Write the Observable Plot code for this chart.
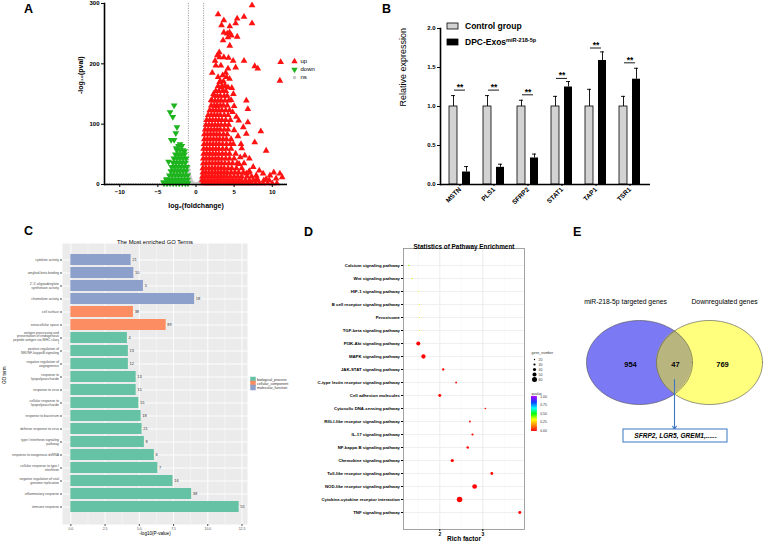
<!DOCTYPE html>
<html>
<head>
<meta charset="utf-8">
<script src="https://cdn.jsdelivr.net/npm/d3@7"></script>
<script src="https://cdn.jsdelivr.net/npm/@observablehq/plot@0.6"></script>
<style>
  body { margin: 0; background: #fff; }
  #fig { position: relative; width: 765px; height: 542px; overflow: hidden; background: #fff;
         font-family: "Liberation Sans", Arial, Helvetica, sans-serif; }
  .tag { position: absolute; font-weight: bold; font-size: 12.5px; line-height: 1; color: #000; }
</style>
</head>
<body>
<div id="fig"></div>
<script>
// ================= Panel A: volcano plot =================
const foldCutoffs = [-1, 1];
const pCutoff = 1.3;
// isolated up-regulated genes [log2FC, -log10 p]
const upScatter = [
  [2.9,282],[3.65,272],[5.4,275],[5.2,267],[6.3,278],[7.35,297],[7.35,267],[3.35,264],[4.43,262],
  [3.65,252],[4.1,250],[4.4,252],[4.65,247],[4.2,244],[5.4,245],[3.55,239],[4.43,230],[3.05,219],
  [2.8,214],[3.1,211],[3.65,211],[4.26,210],[4.87,205],[6.3,205],[2.5,205],[2.6,197],[3.26,197],
  [4.2,192],[5.2,194],[7.7,196],[8.1,192],[11.1,203],[11.0,172],[2.13,185],[3.5,181],[4.0,178],
  [4.4,175],[3.1,170],[3.8,164],[3.35,161],[4.2,161],[4.9,150],[6.6,139],[6.8,125],[5.6,106],
  [6.8,103],[8.5,88],[6.6,84],[7.7,70],[9.2,56],[5.9,67],[4.9,67],[6.4,48],[7.0,43],[5.65,34],
  [7.5,29],[8.3,23],[8.8,18],[10.2,20],[11.0,18],[9.7,15],[7.9,15],[6.6,18],[9.2,9],
  [2.3,150],[2.0,140],[4.6,140],[5.0,130],[4.8,120],[5.3,112],[3.9,185],[2.9,178],[5.0,90],
  [5.5,80],[6.0,60],[5.8,45],[6.3,35],[7.0,22],[8.0,10],[10.5,10],[11.3,12],[6.2,95],[4.7,160],[2.7,130]
];
// dense body of up-regulated genes: [-log10 p, [log2FC ...]]
const upCoreRows = [
  [2,  [0.9,1.3,1.7,2.1,2.5,2.9,3.3,3.7,4.1,4.5,4.9,5.3,5.7,6.1,6.5,6.9,7.3,7.8,8.3,8.8,9.4,10.0,10.6]],
  [7,  [0.8,1.2,1.6,2.0,2.4,2.8,3.2,3.6,4.0,4.4,4.8,5.2,5.6,6.0,6.5,7.0,7.5,8.1,8.9,9.6]],
  [13, [0.85,1.25,1.65,2.05,2.45,2.85,3.25,3.65,4.05,4.5,5.0,5.5,6.0,6.7,7.3]],
  [20, [0.9,1.3,1.7,2.1,2.5,2.9,3.3,3.7,4.1,4.6,5.1,5.6,6.2,6.9]],
  [27, [0.9,1.3,1.7,2.1,2.5,2.9,3.3,3.7,4.2,4.7,5.3,6.0]],
  [35, [0.95,1.35,1.75,2.15,2.55,2.95,3.35,3.8,4.3,4.8,5.4]],
  [43, [0.95,1.35,1.75,2.15,2.55,2.95,3.4,3.9,4.4,5.0]],
  [51, [1.0,1.4,1.8,2.2,2.6,3.0,3.45,3.9,4.4,5.2]],
  [59, [1.0,1.4,1.8,2.2,2.6,3.0,3.5,4.0,4.6]],
  [67, [1.05,1.45,1.85,2.25,2.65,3.05,3.5,4.0,4.5]],
  [75, [1.1,1.5,1.9,2.3,2.7,3.1,3.55,4.0,4.6]],
  [83, [1.1,1.5,1.9,2.3,2.7,3.1,3.6,4.1]],
  [91, [1.2,1.6,2.0,2.4,2.8,3.2,3.7,4.2]],
  [99, [1.3,1.7,2.1,2.5,2.9,3.3,3.8,4.3]],
  [107,[1.4,1.8,2.2,2.6,3.0,3.4,3.9,4.5]],
  [115,[1.6,2.0,2.4,2.8,3.2,3.7,4.2]],
  [123,[1.8,2.2,2.6,3.0,3.4,3.9,4.4]],
  [131,[2.0,2.4,2.8,3.2,3.6,4.1]],
  [139,[2.1,2.5,2.9,3.3,3.8,4.3]],
  [147,[2.4,2.8,3.2,3.7,4.1]],
  [155,[2.6,3.0,3.5,3.9]],
  [163,[2.9,3.4,3.8]],
  [171,[3.2,3.6]]
];
const downScatter = [
  [-2.87,131],[-3.4,120],[-3.04,112],[-2.5,95],[-2.65,85],[-3.26,74],[-2.87,74],[-3.6,38],
  [-4.26,4],[-3.8,9],[-2.1,67],[-1.87,64],[-2.6,60],[-1.5,55]
];
const downCoreRows = [
  [2,  [-4.2,-3.8,-3.4,-3.0,-2.6,-2.2,-1.8,-1.4,-1.05]],
  [8,  [-3.9,-3.5,-3.1,-2.7,-2.3,-1.9,-1.5,-1.1]],
  [15, [-3.5,-3.1,-2.7,-2.3,-1.9,-1.5,-1.1]],
  [22, [-3.3,-2.9,-2.5,-2.1,-1.7,-1.3]],
  [29, [-3.2,-2.8,-2.4,-2.0,-1.6,-1.2]],
  [36, [-3.0,-2.6,-2.2,-1.8,-1.4]],
  [43, [-2.9,-2.5,-2.1,-1.7,-1.3]],
  [50, [-2.7,-2.3,-1.9,-1.5]],
  [57, [-2.5,-2.1,-1.7]],
  [64, [-2.3,-1.9]]
];
const nsPoints = [
  [-0.95,30],[-0.9,24],[-0.85,18],[-0.8,13],[-0.7,9],[-0.6,6],[-0.5,4],[-0.35,2.5],[-0.2,1.5],[0,1],
  [0.2,1.5],[0.35,2.5],[0.5,4],[0.6,6],[0.7,9],[0.8,13],[0.85,18],[0.9,24],[0.95,30],[-0.75,3],
  [0.75,3],[-0.4,0.8],[0.4,0.8],[-0.9,6],[0.9,6],[-0.95,12],[0.95,12]
];
const volcanoLegend = ["up", "down", "ns"];
const volcanoTicksX = [-10, -5, 0, 5, 10];
const volcanoTicksY = [0, 100, 200, 300];

// ================= Panel B: qPCR bars =================
const geneLabels  = ["MSTN", "PLS1", "SFRP2", "STAT1", "TAP1", "TSR1"];
const controlMean = [1.00, 1.00, 1.00, 1.00, 1.00, 1.00];
const controlSD   = [0.14, 0.14, 0.08, 0.13, 0.22, 0.13];
const treatedMean = [0.16, 0.22, 0.34, 1.25, 1.59, 1.35];
const treatedSD   = [0.07, 0.04, 0.05, 0.07, 0.11, 0.14];
const sigLevel    = [1.21, 1.21, 1.15, 1.36, 1.75, 1.56];
const sigMarks    = ["**", "**", "**", "**", "**", "**"];
const barGroups   = ["Control group", "DPC-Exos"];
const barTicksY   = [0, 0.5, 1, 1.5, 2];

// ================= Panel C: GO enrichment =================
const goTerms = [
  "cytokine activity",
  "amyloid-beta binding",
  "2'-5'-oligoadenylate\nsynthetase activity",
  "chemokine activity",
  "cell surface",
  "extracellular space",
  "antigen processing and\npresentation of endogenous\npeptide antigen via MHC class\nI",
  "positive regulation of\nNIK/NF-kappaB signaling",
  "negative regulation of\nangiogenesis",
  "response to\nlipopolysaccharide",
  "response to virus",
  "cellular response to\nlipopolysaccharide",
  "response to bacterium",
  "defense response to virus",
  "type I interferon signaling\npathway",
  "response to exogenous dsRNA",
  "cellular response to type I\ninterferon",
  "negative regulation of viral\ngenome replication",
  "inflammatory response",
  "immune response"
];
const goValues = [4.40, 4.60, 5.30, 9.04, 4.57, 6.96, 4.13, 4.20, 4.20, 4.77,
                  4.77, 4.96, 5.13, 5.20, 5.37, 6.10, 6.35, 7.46, 8.82, 12.29];
const goCounts = [21, 10, 5, 18, 38, 89, 4, 13, 12, 13, 15, 15, 18, 21, 8, 6, 7, 16, 38, 55];
const goTypes = [
  "molecular_function", "molecular_function", "molecular_function", "molecular_function",
  "cellular_component", "cellular_component",
  "biological_process", "biological_process", "biological_process", "biological_process",
  "biological_process", "biological_process", "biological_process", "biological_process",
  "biological_process", "biological_process", "biological_process", "biological_process",
  "biological_process", "biological_process"
];
const goCategories = ["biological_process", "cellular_component", "molecular_function"];
const goTicks = [0, 2.5, 5, 7.5, 10, 12.5];

// ================= Panel D: KEGG pathway enrichment =================
const pathways = [
  "Calcium signaling pathway", "Wnt signaling pathway", "HIF-1 signaling pathway",
  "B cell receptor signaling pathway", "Peroxisome", "TGF-beta signaling pathway",
  "PI3K-Akt signaling pathway", "MAPK signaling pathway", "JAK-STAT signaling pathway",
  "C-type lectin receptor signaling pathway", "Cell adhesion molecules",
  "Cytosolic DNA-sensing pathway", "RIG-I-like receptor signaling pathway",
  "IL-17 signaling pathway", "NF-kappa B signaling pathway", "Chemokine signaling pathway",
  "Toll-like receptor signaling pathway", "NOD-like receptor signaling pathway",
  "Cytokine-cytokine receptor interaction", "TNF signaling pathway"
];
const richFactor = [1.28, 1.36, 1.50, 1.53, 1.53, 1.53, 1.50, 1.62, 2.08, 2.38,
                    2.00, 3.06, 2.70, 2.76, 2.65, 2.29, 3.21, 2.81, 2.46, 3.86];
const geneCount  = [21, 20, 18, 18, 18, 18, 49, 52, 31, 25, 38, 24, 25, 29, 33, 41, 36, 57, 65, 38];
const qValue     = [0.40, 0.38, 0.32, 0.32, 0.32, 0.32, 0.001, 0.001, 0.004, 0.01,
                    0.002, 0.012, 0.008, 0.006, 0.004, 0.002, 0.003, 0.001, 0.001, 0.002];
const geneNumberBreaks = [20, 30, 40, 50, 60];
const qValueBreaks = [0, 0.25, 0.5, 0.75, 1];
const richTicks = [2, 3];

// ================= Panel E: Venn diagram =================
const vennSets = ["miR-218-5p targeted genes", "Downregulated genes"];
const vennCounts = [954, 47, 769];
const sharedGenes = "SFRP2, LGR5, GREM1,......";

// ---------------- styling ----------------
const FONT = "'Liberation Sans', Arial, Helvetica, sans-serif";
const upColor = "#ff1212", downColor = "#1eb41e", nsColor = "#c8c8c8";
const goPalette = ["#66c2a5", "#fc8d62", "#8da0cb"];
const rainbowStops = ["#ff0000", "#ff8c00", "#ffff00", "#00ff00", "#00ffff", "#0040ff", "#a000ff"];
const qColor = {type: "linear", domain: [0, 1], interpolate: d3.piecewise(d3.interpolateRgb, rainbowStops)};
const rSize = {type: "linear", domain: [20, 60], range: [0.65, 2.5]};

const fig = document.getElementById("fig");
function place(el, left, top) {
  Object.assign(el.style, {position: "absolute", left: left + "px", top: top + "px",
                           background: "transparent", overflow: "visible", maxWidth: "none"});
  fig.appendChild(el);
  return el;
}
function tag(letter, left, top) {
  const d = document.createElement("div");
  d.className = "tag"; d.textContent = letter;
  d.style.left = left + "px"; d.style.top = top + "px";
  fig.appendChild(d);
}
const expand = rows => rows.flatMap(([y, xs]) => xs.map(x => [x, y]));

// ---------------- A ----------------
const upAll = upScatter.concat(expand(upCoreRows));
const downAll = downScatter.concat(expand(downCoreRows));
place(Plot.plot({
  width: 300, height: 215, marginLeft: 104, marginRight: 13, marginTop: 3, marginBottom: 31,
  x: {domain: [-12, 12]},
  y: {domain: [0, 300]},
  style: {fontFamily: FONT, fontSize: "6px", fontWeight: "bold", color: "#000"},
  marks: [
    Plot.ruleX(foldCutoffs, {stroke: "#777", strokeWidth: 0.7, strokeDasharray: "1.2,1.2"}),
    Plot.ruleY([pCutoff], {stroke: "#777", strokeWidth: 0.7, strokeDasharray: "1.2,1.2"}),
    Plot.dot(nsPoints, {x: d => d[0], y: d => d[1], r: 1.8, fill: nsColor}),
    Plot.dot(downAll, {x: d => d[0], y: d => d[1], symbol: "triangle", rotate: 180, r: 2.5, fill: downColor}),
    Plot.dot(upAll, {x: d => d[0], y: d => d[1], symbol: "triangle", r: 2.5, fill: upColor}),
    Plot.ruleY([0], {strokeWidth: 1.6}),
    Plot.frame({anchor: "left", strokeWidth: 1.6}),
    Plot.axisX({ticks: volcanoTicksX, tickSize: 3, tickPadding: 2, label: null}),
    Plot.axisY({ticks: volcanoTicksY, tickSize: 3, tickPadding: 2, label: null}),
    Plot.text(["log₂(foldchange)"], {text: d => d, frameAnchor: "bottom", dy: 23, fontSize: 7}),
    Plot.text(["-log₁₀(pval)"], {text: d => d, frameAnchor: "left", dx: -24, rotate: -90, fontSize: 7})
  ]
}), 0, 0);

place(Plot.plot({
  width: 40, height: 42, marginLeft: 0, marginRight: 0, marginTop: 0, marginBottom: 0,
  y: {type: "point", domain: volcanoLegend, range: [8, 33], axis: null},
  style: {fontFamily: FONT, fontSize: "6px"},
  marks: [
    Plot.dot(["up"], {y: d => d, frameAnchor: "left", dx: 6, symbol: "triangle", r: 2.4, fill: upColor}),
    Plot.dot(["down"], {y: d => d, frameAnchor: "left", dx: 6, symbol: "triangle", rotate: 180, r: 2.4, fill: downColor}),
    Plot.dot(["ns"], {y: d => d, frameAnchor: "left", dx: 6, r: 1.8, fill: nsColor}),
    Plot.text(volcanoLegend, {y: d => d, text: d => d, frameAnchor: "left", dx: 12, textAnchor: "start"})
  ]
}), 288, 48);

// ---------------- B ----------------
const bRows = geneLabels.map((gene, i) => ({
  gene, control: controlMean[i], controlTop: controlMean[i] + controlSD[i],
  treated: treatedMean[i], treatedTop: treatedMean[i] + treatedSD[i],
  sig: sigLevel[i], star: sigMarks[i]
}));
place(Plot.plot({
  width: 290, height: 215, marginLeft: 70, marginRight: 10, marginTop: 28, marginBottom: 31,
  x: {domain: geneLabels, paddingInner: 0.371, paddingOuter: 0.186},
  y: {domain: [0, 2]},
  style: {fontFamily: FONT, fontSize: "6px", fontWeight: "bold", color: "#000"},
  marks: [
    Plot.barY(bRows, {x: "gene", y: "control", fill: "#d3d3d3", stroke: "#000", strokeWidth: 0.8, insetRight: 13}),
    Plot.barY(bRows, {x: "gene", y: "treated", fill: "#000", insetLeft: 13}),
    Plot.ruleX(bRows, {x: "gene", y1: "control", y2: "controlTop", dx: -6.5, strokeWidth: 0.9}),
    Plot.tickY(bRows, {x: "gene", y: "controlTop", dx: -6.5, insetLeft: 8.5, insetRight: 8.5, strokeWidth: 0.9}),
    Plot.ruleX(bRows, {x: "gene", y1: "treated", y2: "treatedTop", dx: 6.5, strokeWidth: 0.9}),
    Plot.tickY(bRows, {x: "gene", y: "treatedTop", dx: 6.5, insetLeft: 8.5, insetRight: 8.5, strokeWidth: 0.9}),
    Plot.tickY(bRows, {x: "gene", y: "sig", insetLeft: 5, insetRight: 5, strokeWidth: 0.9}),
    Plot.text(bRows, {x: "gene", y: "sig", text: "star", dy: -3, fontSize: 8.5, fontWeight: "bold"}),
    Plot.ruleY([0], {strokeWidth: 1.6}),
    Plot.frame({anchor: "left", strokeWidth: 1.6}),
    Plot.axisY({ticks: barTicksY, tickFormat: d3.format(".1f"), tickSize: 3, tickPadding: 2, label: null}),
    Plot.axisX({tickRotate: -45, tickSize: 2, tickPadding: 2, label: null, fontSize: 6.5}),
    Plot.text(["Relative expression"], {text: d => d, frameAnchor: "left", dx: -37, rotate: -90,
                                        fontSize: 9, fontWeight: "normal"})
  ]
}), 370, 0);

const legB = place(Plot.plot({
  width: 150, height: 55, marginLeft: 0, marginRight: 0, marginTop: 0, marginBottom: 0,
  x: {domain: ["swatch"], range: [2, 13], padding: 0, axis: null},
  y: {domain: barGroups, range: [22.7, 46.1], paddingInner: 0.6, paddingOuter: 0, axis: null},
  style: {fontFamily: FONT, fontSize: "8.5px", fontWeight: "bold"},
  marks: [
    Plot.cell(barGroups, {x: () => "swatch", y: d => d, fill: (d, i) => i === 0 ? "#d3d3d3" : "#000",
                          stroke: "#000", strokeWidth: 0.8}),
    Plot.text(barGroups, {x: () => "swatch", y: d => d, text: d => d, dx: 12, textAnchor: "start"})
  ]
}), 445, 0);
d3.select(legB).selectAll("text").filter(function() { return this.textContent === "DPC-Exos"; })
  .append("tspan").attr("dy", "-3.2").attr("font-size", "5.6").text("miR-218-5p");

// ---------------- C ----------------
const goRows = goTerms.map((term, i) => ({term, value: goValues[i], count: goCounts[i], type: goTypes[i]}));
place(Plot.plot({
  width: 250, height: 320, marginLeft: 62, marginRight: 3, marginTop: 21, marginBottom: 18,
  x: {domain: [-0.61, 12.9]},
  y: {domain: goTerms, padding: 0.14},
  color: {domain: goCategories, range: goPalette},
  style: {fontFamily: FONT, fontSize: "3.4px", color: "#4d4d4d"},
  marks: [
    Plot.frame({fill: "#ebebeb", stroke: null}),
    Plot.gridX([1.25, 3.75, 6.25, 8.75, 11.25], {stroke: "#fff", strokeOpacity: 1, strokeWidth: 0.4}),
    Plot.gridX(goTicks, {stroke: "#fff", strokeOpacity: 1, strokeWidth: 0.9}),
    Plot.gridY({stroke: "#fff", strokeOpacity: 1, strokeWidth: 0.9}),
    Plot.barX(goRows, {x: "value", y: "term", fill: "type"}),
    Plot.text(goRows, {x: "value", y: "term", text: "count", dx: 1.2, textAnchor: "start", fontSize: 4, fill: "#333"}),
    Plot.axisX({ticks: goTicks, tickFormat: d3.format(".1f"), tickSize: 2, tickPadding: 1.5, label: null, color: "#4d4d4d"}),
    Plot.axisY({tickSize: 2, tickPadding: 1.5, label: null, color: "#4d4d4d"}),
    Plot.text(["The Most enriched GO Terms"], {text: d => d, frameAnchor: "top", dy: -4, fontSize: 5.8, fill: "#000"}),
    Plot.text(["-log10(P-value)"], {text: d => d, frameAnchor: "bottom", dy: 10, fontSize: 4.6, fill: "#000"}),
    Plot.text(["GO term"], {text: d => d, frameAnchor: "left", dx: -58, rotate: -90, fontSize: 4.6, fill: "#000"})
  ]
}), 0, 222);

place(Plot.plot({
  width: 60, height: 28, marginLeft: 0, marginRight: 0, marginTop: 0, marginBottom: 0,
  y: {type: "point", domain: goCategories, range: [6.5, 21], axis: null},
  color: {domain: goCategories, range: goPalette},
  style: {fontFamily: FONT, fontSize: "3.6px", color: "#333"},
  marks: [
    Plot.dot(goCategories, {y: d => d, frameAnchor: "left", dx: 4.5, symbol: "square", r: 3.1, fill: d => d}),
    Plot.text(goCategories, {y: d => d, text: d => d, frameAnchor: "left", dx: 8.5, textAnchor: "start"})
  ]
}), 248, 369);

// ---------------- D ----------------
const pathRows = pathways.map((name, i) => ({name, rich: richFactor[i], genes: geneCount[i], q: qValue[i]}));
place(Plot.plot({
  width: 280, height: 320, marginLeft: 153, marginRight: 6, marginTop: 26, marginBottom: 13,
  x: {domain: [1.156, 3.97]},
  y: {type: "point", domain: pathways, padding: 0.6},
  r: rSize,
  color: qColor,
  style: {fontFamily: FONT, fontSize: "4.3px", fontWeight: "bold", color: "#000"},
  marks: [
    Plot.gridX([1.5, 2.5, 3.5], {stroke: "#f2f2f2", strokeOpacity: 1, strokeWidth: 0.5}),
    Plot.gridX(richTicks, {stroke: "#e6e6e6", strokeOpacity: 1, strokeWidth: 0.8}),
    Plot.gridY({stroke: "#ebebeb", strokeOpacity: 1, strokeWidth: 0.8}),
    Plot.frame({stroke: "#8c8c8c", strokeWidth: 0.8}),
    Plot.dot(pathRows, {x: "rich", y: "name", r: "genes", fill: "q"}),
    Plot.axisY({tickSize: 2, tickPadding: 1.5, label: null}),
    Plot.axisX({ticks: richTicks, tickFormat: d3.format("d"), tickSize: 2, tickPadding: 0.5, label: null, fontSize: 5}),
    Plot.text(["Statistics of Pathway Enrichment"], {text: d => d, frameAnchor: "top", dy: -4, fontSize: 6.4}),
    Plot.text(["Rich factor"], {text: d => d, frameAnchor: "bottom", dy: 11.5, fontSize: 6.5})
  ]
}), 250, 222);

// size legend
place(Plot.plot({
  width: 30, height: 42, marginLeft: 0, marginRight: 0, marginTop: 0, marginBottom: 0,
  y: {type: "point", domain: geneNumberBreaks, range: [9.7, 36.3], axis: null},
  r: rSize,
  style: {fontFamily: FONT, fontSize: "3.5px", color: "#333"},
  marks: [
    Plot.text(["gene_number"], {text: d => d, frameAnchor: "top-left", dx: 5, dy: 4.5, textAnchor: "start"}),
    Plot.dot(geneNumberBreaks, {y: d => d, r: d => d, frameAnchor: "left", dx: 8, fill: "#000"}),
    Plot.text(geneNumberBreaks, {y: d => d, text: d => d, frameAnchor: "left", dx: 12, textAnchor: "start"})
  ]
}), 526, 346);

// colour bar legend
place(Plot.plot({
  width: 30, height: 45, marginLeft: 5, marginRight: 19.3, marginTop: 7, marginBottom: 4,
  y: {domain: [0, 1], axis: null},
  color: qColor,
  style: {fontFamily: FONT, fontSize: "3.5px", color: "#333"},
  marks: [
    Plot.ruleY(d3.range(0, 1.0001, 0.01), {y: d => d, stroke: d => d, strokeWidth: 0.8}),
    Plot.axisY({anchor: "right", ticks: qValueBreaks, tickFormat: d3.format(".2f"), tickSize: 0, tickPadding: 3, label: null}),
    Plot.text(["qvalue"], {text: d => d, frameAnchor: "top-left", dy: -4, textAnchor: "start"})
  ]
}), 526, 389);

// ---------------- E ----------------
const vennLayout = {
  left: {cx: 99, cy: 77, rx: 53, ry: 42},
  right: {cx: 169, cy: 77, rx: 53, ry: 42},
  titleY: 16, titleX: [85, 184],
  countY: 79, countX: [90, 135, 182],
  arrow: {x: 134, y1: 94, y2: 144},
  box: {x1: 83, x2: 187, y1: 144, y2: 157}
};
const ellipse = c => d3.range(0, 361, 3).map(a => [c.cx + c.rx * Math.cos(a * Math.PI / 180),
                                                  c.cy + c.ry * Math.sin(a * Math.PI / 180)]);
const L = vennLayout.left, R = vennLayout.right;
const lens = d3.range(L.cy - L.ry, L.cy + L.ry + 0.001, 0.25).map(y => {
  const sL = Math.sqrt(Math.max(0, 1 - ((y - L.cy) / L.ry) ** 2));
  const sR = Math.sqrt(Math.max(0, 1 - ((y - R.cy) / R.ry) ** 2));
  return {y, x1: R.cx - R.rx * sR, x2: L.cx + L.rx * sL};
}).filter(d => d.x1 <= d.x2);
const vennStroke = "#4d4d4d", linkBlue = "#3d77c2";
place(Plot.plot({
  width: 225, height: 165, marginLeft: 0, marginRight: 0, marginTop: 0, marginBottom: 0,
  x: {type: "identity", axis: null},
  y: {type: "identity", axis: null},
  style: {fontFamily: FONT, fontSize: "7px", color: "#000"},
  marks: [
    Plot.line(ellipse(L), {x: d => d[0], y: d => d[1], fill: "#7b79f3", stroke: "none"}),
    Plot.line(ellipse(R), {x: d => d[0], y: d => d[1], fill: "#ffff7d", stroke: "none"}),
    Plot.areaX(lens, {y: "y", x1: "x1", x2: "x2", fill: "#b9b57e"}),
    Plot.line(ellipse(L), {x: d => d[0], y: d => d[1], stroke: vennStroke, strokeWidth: 0.6}),
    Plot.line(ellipse(R), {x: d => d[0], y: d => d[1], stroke: vennStroke, strokeWidth: 0.6}),
    Plot.text(vennSets, {x: (d, i) => vennLayout.titleX[i], y: vennLayout.titleY, text: d => d, fontSize: 6.8}),
    Plot.text(vennCounts, {x: (d, i) => vennLayout.countX[i], y: vennLayout.countY, text: d => d,
                           fontSize: 7.5, fontWeight: "bold"}),
    Plot.arrow([sharedGenes], {x1: vennLayout.arrow.x, x2: vennLayout.arrow.x, y1: vennLayout.arrow.y1,
                               y2: vennLayout.arrow.y2, stroke: linkBlue, strokeWidth: 1.1, headLength: 5}),
    Plot.rect([sharedGenes], {x1: vennLayout.box.x1, x2: vennLayout.box.x2, y1: vennLayout.box.y1,
                              y2: vennLayout.box.y2, fill: "#fff", stroke: linkBlue, strokeWidth: 1}),
    Plot.text([sharedGenes], {x: (vennLayout.box.x1 + vennLayout.box.x2) / 2,
                              y: (vennLayout.box.y1 + vennLayout.box.y2) / 2, text: d => d,
                              fontSize: 6.6, fontWeight: "bold", fontStyle: "italic"})
  ]
}), 540, 285);

// panel letters
tag("A", 24, 2.5);
tag("B", 382, 2.5);
tag("C", 24, 224.5);
tag("D", 304, 225.5);
tag("E", 573, 225.5);
</script>
</body>
</html>
